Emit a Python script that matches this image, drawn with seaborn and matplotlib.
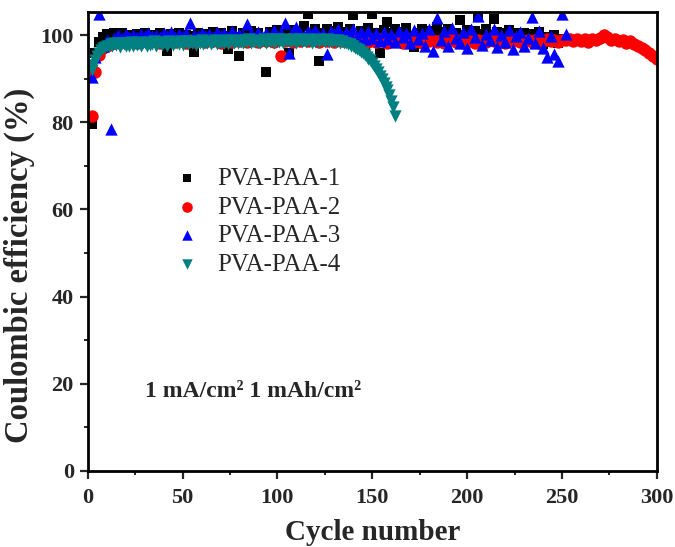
import matplotlib
matplotlib.use("Agg")
import matplotlib.pyplot as plt
from matplotlib.ticker import MultipleLocator
import seaborn as sns
import pandas as pd

# ---- data -------------------------------------------------------------
cycles_1 = list(range(2, 251, 2))
ce_1 = [79.5, 96.0, 98.5, 99.5, 100.3, 99.8, 100.6, 99.2, 100.4, 99.6,
        100.1, 99.4, 100.2, 99.8, 100.5, 99.3, 100.0, 99.7, 100.4, 99.1,
        96.3, 100.2, 99.6, 100.5, 99.4, 100.1, 99.8, 96.1, 100.6, 99.5,
        100.3, 99.9, 100.8, 99.2, 100.4, 99.7, 96.8, 100.9, 99.6, 95.2,
        100.5, 99.3, 101.0, 99.8, 100.6, 99.4, 91.6, 100.7, 99.9, 101.2,
        99.5, 100.8, 96.0, 101.1, 99.7, 100.9, 102.0, 104.8, 100.2, 101.3,
        94.1, 100.6, 101.5, 99.8, 100.9, 101.8, 99.6, 100.7, 101.4, 104.6,
        100.3, 101.0, 96.5, 101.6, 104.8, 100.5, 96.0, 101.2, 103.0, 100.4,
        101.5, 99.9, 100.8, 101.6, 99.4, 97.2, 100.6, 101.3, 99.8, 101.0,
        100.2, 101.9, 99.5, 100.7, 101.4, 99.9, 100.6, 103.5, 100.1, 101.2,
        99.6, 100.9, 104.2, 100.3, 101.5, 99.7, 103.6, 100.8, 99.5, 100.4,
        101.1, 99.8, 100.6, 99.3, 100.5, 98.8, 100.2, 99.1, 100.7, 97.9,
        99.6, 98.5, 100.1, 98.2, 99.0]

cycles_2 = list(range(2, 301, 2))
ce_2 = [81.5, 91.5, 95.5, 97.0, 97.6, 98.0, 98.3,
        98.4, 98.7, 98.2, 98.6, 98.9, 98.3, 98.5, 98.8, 98.4, 98.6,
        98.9, 98.3, 98.7, 98.5, 99.0, 98.4, 98.8, 98.6, 98.2, 98.9,
        98.5, 98.7, 99.1, 98.4, 98.8, 98.6, 99.0, 98.3, 98.7, 98.9,
        98.5, 99.1, 98.6, 98.8, 98.4, 99.0, 98.7, 98.5, 98.9, 98.6,
        99.0, 98.4, 98.8, 95.2, 98.6, 99.1, 98.5, 98.9, 98.7, 99.0,
        98.6, 99.2, 98.8, 98.5, 99.0, 98.7, 99.1, 98.4, 98.9, 98.6,
        99.0, 98.7, 98.3, 98.9, 98.6, 99.2, 98.5, 98.8, 98.4, 99.0,
        98.7, 98.3, 99.1, 98.6, 98.9, 98.2, 98.8, 99.0, 98.5, 98.7,
        98.3, 99.0, 98.6, 98.9, 98.4, 98.8, 98.1, 98.7, 99.1, 98.5,
        98.8, 98.3, 99.0, 98.6, 98.2, 98.9, 98.7, 98.4, 99.1, 98.6,
        98.9, 98.5, 98.2, 98.8, 98.6, 99.0, 98.4, 98.7, 98.9, 98.5,
        98.8, 98.3, 98.7, 99.0, 98.6, 98.9, 98.5, 98.8,
        98.8, 99.0, 98.6, 99.2, 98.7, 99.0, 98.5, 99.1, 98.8, 99.4,
        100.1, 99.6, 98.9, 99.2, 98.6, 98.9, 98.3, 98.6, 97.9, 97.6,
        97.0, 96.6, 96.0, 95.3, 94.6]

cycles_3 = list(range(2, 253, 2))
ce_3 = [90.3, 95.0, 104.8, 97.5, 98.8, 78.4, 99.3, 100.0, 99.4, 100.2,
        99.6, 100.1, 99.5, 100.3, 99.8, 100.4, 99.7, 100.1, 99.5, 100.5,
        99.9, 100.8, 99.6, 100.2, 99.8, 100.6, 102.8, 100.1, 99.7, 100.5,
        99.9, 100.3, 99.6, 100.7, 99.8, 100.4, 99.5, 100.9, 99.7, 100.3,
        99.9, 102.5, 100.5, 99.6, 100.8, 99.8, 100.4, 99.3, 101.2, 99.9,
        100.6, 102.8, 96.0, 100.9, 101.8, 100.4, 99.7, 101.0, 100.3, 101.2,
        99.8, 100.6, 95.6, 101.0, 100.2, 101.4, 99.9, 100.8, 100.1, 101.3,
        99.6, 100.7, 99.2, 100.9, 99.4, 100.5, 98.6, 100.8, 99.2, 100.3,
        98.4, 101.0, 99.5, 100.6, 98.2, 101.2, 99.0, 100.4, 97.6, 101.4,
        96.3, 104.0, 98.8, 100.9, 97.4, 101.6, 99.3, 98.1, 100.7, 97.0,
        101.3, 99.6, 104.4, 97.8, 100.2, 98.9, 101.5, 97.3, 100.0, 98.4,
        101.2, 96.9, 99.7, 100.8, 97.5, 99.4, 104.2, 98.3, 100.9, 97.1,
        95.0, 99.8, 95.6, 94.0, 104.8, 100.2]

cycles_4 = list(range(2, 163))
ce_4 = [92.0, 93.2, 94.2, 95.3, 96.0, 96.6, 97.0, 97.3, 97.5,
        97.6, 97.9, 97.4, 98.1, 97.7, 98.2, 97.3, 98.3, 97.9, 97.5,
        98.2, 97.6, 98.4, 97.4, 98.1, 97.8, 98.4, 97.5, 98.1, 98.3,
        97.6, 98.5, 97.8, 98.0, 98.6, 97.5, 98.2, 98.4, 97.7, 98.5,
        98.0, 97.6, 98.6, 98.1, 97.8, 98.5, 98.3, 97.9, 98.7, 97.8,
        98.2, 98.6, 97.9, 98.4, 98.1, 98.7, 97.8, 98.4, 98.2, 98.8,
        98.0, 98.5, 98.1, 98.7, 98.0, 98.4, 98.8, 97.9, 98.5, 98.2,
        98.7, 98.2, 98.9, 98.0, 98.5, 98.8, 98.1, 98.7, 98.3, 98.9,
        98.4, 98.1, 98.8, 98.5, 99.0, 98.2, 98.7, 98.4, 98.9, 98.5,
        98.2, 98.7, 99.0, 98.3, 98.8, 98.5, 99.1, 98.3, 98.7, 99.0,
        98.4, 98.8, 98.2, 99.1, 98.6, 98.9, 98.4, 98.8, 99.1, 98.3,
        98.7, 99.1, 98.4, 98.9, 98.5, 99.1, 98.7, 98.3, 98.9, 98.5,
        99.0, 98.4, 98.8, 98.9, 98.5, 99.0, 98.4, 98.8, 98.5, 98.9,
        98.4, 98.8, 98.3, 98.6, 98.2,
        98.3, 98.0, 97.9, 97.6, 97.4, 97.1, 96.9, 96.5, 96.2, 95.8,
        95.4, 95.0, 94.6, 94.2, 93.6, 92.9, 92.2, 91.5, 90.7, 89.9,
        89.0, 88.2, 87.3, 86.2, 85.0, 83.5, 81.5]

labels = ["PVA-PAA-1", "PVA-PAA-2", "PVA-PAA-3", "PVA-PAA-4"]
x_ticks = [0, 50, 100, 150, 200, 250, 300]
y_ticks = [0, 20, 40, 60, 80, 100]

# ---- style ------------------------------------------------------------
sns.set_style("ticks")
plt.rcParams["font.family"] = ["Liberation Serif", "DejaVu Serif"]

fig = plt.figure(figsize=(6.75, 5.47), dpi=100)
ax = fig.add_axes([0.130, 0.139, 0.843, 0.839])

series = [
    (cycles_1, ce_1, "black", "s", 52),
    (cycles_2, ce_2, "#ff0000", "o", 80),
    (cycles_3, ce_3, "#0000ff", "^", 78),
    (cycles_4, ce_4, "#008080", "v", 78),
]
for (cx, cy, col, mk, sz), lab in zip(series, labels):
    df = pd.DataFrame({"cycle": cx, "ce": cy})
    sns.scatterplot(data=df, x="cycle", y="ce", ax=ax, color=col, marker=mk,
                    s=sz, linewidth=0, label=lab, clip_on=True)

ax.set_xlim(0, 300)
ax.set_ylim(0, 105.3)
ax.set_xticks(x_ticks)
ax.set_yticks(y_ticks)
ax.xaxis.set_minor_locator(MultipleLocator(25))
ax.yaxis.set_minor_locator(MultipleLocator(10))
ax.tick_params(axis="both", which="major", direction="out", length=6,
               width=1.6, labelsize=16, pad=4)
ax.tick_params(axis="x", which="major", pad=6)
ax.tick_params(axis="both", which="minor", direction="out", length=3,
               width=1.4)
for lbl in ax.get_xticklabels() + ax.get_yticklabels():
    lbl.set_fontweight("bold")
for sp in ax.spines.values():
    sp.set_visible(True)
    sp.set_linewidth(2.0)
    sp.set_color("black")

ax.set_xlabel("Cycle number", fontsize=21, fontweight="bold")
ax.set_ylabel("Coulombic efficiency (%)", fontsize=23.5, fontweight="bold")
ax.xaxis.set_label_coords(0.5, -0.105)
ax.yaxis.set_label_coords(-0.092, 0.447)

ax.text(30, 17, "1 mA/cm\u00b2 1 mAh/cm\u00b2", fontsize=17,
        fontweight="bold", va="baseline", ha="left")

leg = ax.legend(loc="upper left", bbox_to_anchor=(0.113, 0.683), frameon=False,
                fontsize=18, handletextpad=0.2, labelspacing=0.24,
                borderaxespad=0, markerscale=0.85)

fig.savefig("out.png", dpi=100)
